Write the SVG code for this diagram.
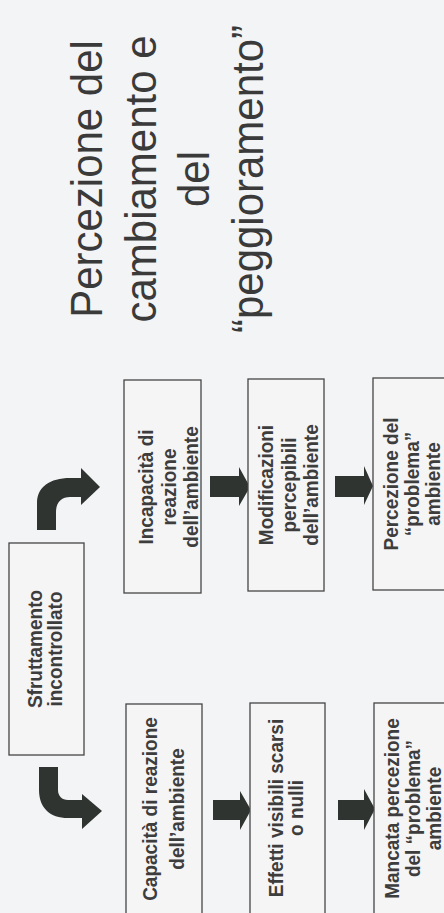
<svg xmlns="http://www.w3.org/2000/svg" width="444" height="913" viewBox="0 0 444 913">
<defs>
<style>
.bg{fill:#f3f4f5}
.box{fill:#f5f5f6;stroke:#454545;stroke-width:1.3}
.bt{font-family:"Liberation Sans",Arial,sans-serif;font-weight:bold;font-size:19px;fill:#3d3d3d;text-anchor:middle}
.tt{font-family:"Liberation Sans",Arial,sans-serif;font-size:42px;fill:#3a3a3a;text-anchor:middle}
.arr{fill:#2f3431}
</style>
</defs>
<rect class="bg" x="0" y="0" width="444" height="913"/>

<g id="title">
<text class="tt" transform="translate(102,179) scale(1.04,1) rotate(-90)">Percezione del</text>
<text class="tt" transform="translate(156,179) scale(1.04,1) rotate(-90)">cambiamento e</text>
<text class="tt" transform="translate(209,179) scale(1.04,1) rotate(-90)">del</text>
<text class="tt" transform="translate(263,179) scale(1.04,1) rotate(-90)">“peggioramento”</text>
</g>

<g id="connectors">
<path class="arr" d="M37,530 L37,503 C37,487 50,478 70,478 L81,478 L81,468 L100,487 L81,505 L81,497 L70,497 C62,497 56,502 56,512 L56,530 Z"/>
<path class="arr" d="M39,767 L58,767 L58,790 C58,796 62,800 68,800 L82,800 L82,794 L102,811 L82,829 L82,818 L68,818 C50,818 39,808 39,790 Z"/>
<path class="arr" d="M210,476 L239,476 L239,467 L250,487 L239,506 L239,497 L210,497 Z"/>
<path class="arr" d="M335,476 L364,476 L364,466 L373,486 L364,505 L364,497 L335,497 Z"/>
<path class="arr" d="M213,800 L240,800 L240,791 L251,810 L240,830 L240,820 L213,820 Z"/>
<path class="arr" d="M338,800 L364,800 L364,789 L375,809 L364,830 L364,820 L338,820 Z"/>
</g>

<g id="sfruttamento">
<rect class="box" x="9" y="543" width="75" height="212"/>
<text class="bt" transform="translate(41.5,649) scale(1.1,1) rotate(-90)">Sfruttamento</text>
<text class="bt" transform="translate(61.5,649) scale(1.1,1) rotate(-90)">incontrollato</text>
</g>

<g id="incapacita">
<rect class="box" x="124" y="380" width="77" height="213"/>
<text class="bt" transform="translate(153,487) scale(1.1,1) rotate(-90)">Incapacità di</text>
<text class="bt" transform="translate(176,487) scale(1.1,1) rotate(-90)">reazione</text>
<text class="bt" transform="translate(198,487) scale(1.1,1) rotate(-90)">dell’ambiente</text>
</g>

<g id="modificazioni">
<rect class="box" x="248" y="379" width="76" height="212"/>
<text class="bt" transform="translate(273,485) scale(1.1,1) rotate(-90)">Modificazioni</text>
<text class="bt" transform="translate(295.5,485) scale(1.1,1) rotate(-90)">percepibili</text>
<text class="bt" transform="translate(318,485) scale(1.1,1) rotate(-90)">dell’ambiente</text>
</g>

<g id="percezione">
<rect class="box" x="373" y="378" width="100" height="212"/>
<text class="bt" transform="translate(398,484) scale(1.1,1) rotate(-90)">Percezione del</text>
<text class="bt" transform="translate(419,484) scale(1.1,1) rotate(-90)">“problema”</text>
<text class="bt" transform="translate(440,484) scale(1.1,1) rotate(-90)">ambiente</text>
</g>

<g id="capacita">
<rect class="box" x="126" y="704" width="76" height="214"/>
<text class="bt" transform="translate(157,809) scale(1.1,1) rotate(-90)">Capacità di reazione</text>
<text class="bt" transform="translate(184,809) scale(1.1,1) rotate(-90)">dell’ambiente</text>
</g>

<g id="effetti">
<rect class="box" x="250" y="703" width="75" height="215"/>
<text class="bt" transform="translate(283,808) scale(1.1,1) rotate(-90)">Effetti visibili scarsi</text>
<text class="bt" transform="translate(303,808) scale(1.1,1) rotate(-90)">o nulli</text>
</g>

<g id="mancata">
<rect class="box" x="374" y="703" width="100" height="215"/>
<text class="bt" transform="translate(399,808.5) scale(1.1,1) rotate(-90)">Mancata percezione</text>
<text class="bt" transform="translate(420,808.5) scale(1.1,1) rotate(-90)">del “problema”</text>
<text class="bt" transform="translate(441,808.5) scale(1.1,1) rotate(-90)">ambiente</text>
</g>
</svg>
